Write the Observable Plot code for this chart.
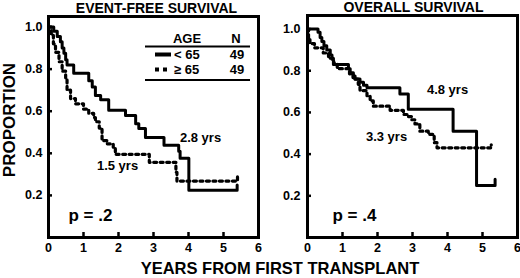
<!DOCTYPE html>
<html><head><meta charset="utf-8">
<script src="https://cdn.jsdelivr.net/npm/d3@7"></script>
<script src="https://cdn.jsdelivr.net/npm/@observablehq/plot@0.6"></script>
<style>
body{margin:0;background:#fff;}
#wrap{position:relative;width:520px;height:278px;font-family:"Liberation Sans",Arial,sans-serif;}
#wrap svg{position:absolute;top:0;}
</style></head><body><div id="wrap"></div>
<script>
// ---- data ----
const panelTitles = ["EVENT-FREE SURVIVAL", "OVERALL SURVIVAL"];
const groups = ["< 65", "\u2265 65"];
const groupN = [49, 49];
const xTicks = [0, 1, 2, 3, 4, 5, 6];
const yTicks = [0.2, 0.4, 0.6, 0.8, 1.0];
const xTitle = "YEARS FROM FIRST TRANSPLANT";
const yTitle = "PROPORTION";

// Event-free survival, age < 65 (solid)
const efsYoungT = [0, 0.15, 0.25, 0.34, 0.39, 0.44, 0.49, 0.53, 0.72, 1.15, 1.25, 1.34, 1.49, 1.72, 2.2, 2.49, 2.58, 2.77, 3.3, 3.72, 3.76, 4.01, 5.39, 5.39];
const efsYoungS = [1.0, 0.98, 0.955, 0.93, 0.90, 0.875, 0.845, 0.82, 0.78, 0.745, 0.715, 0.675, 0.655, 0.605, 0.58, 0.54, 0.518, 0.475, 0.438, 0.41, 0.376, 0.224, 0.224, 0.25];
// Event-free survival, age >= 65 (dotted)
const efsOldT = [0, 0.08, 0.14, 0.2, 0.3, 0.39, 0.49, 0.53, 0.63, 0.77, 1.0, 1.15, 1.29, 1.34, 1.45, 1.53, 1.68, 1.85, 1.91, 2.88, 3.64, 3.67, 5.4, 5.4];
const efsOldS = [1.0, 0.96, 0.92, 0.88, 0.835, 0.79, 0.75, 0.70, 0.66, 0.635, 0.61, 0.59, 0.57, 0.55, 0.52, 0.46, 0.445, 0.425, 0.395, 0.357, 0.31, 0.268, 0.268, 0.288];
// Overall survival, age < 65 (solid)
const osYoungT = [0, 0.3, 0.36, 0.41, 0.47, 0.55, 0.65, 0.7, 0.74, 1.17, 1.22, 1.31, 1.36, 1.5, 1.6, 1.7, 2.64, 2.88, 4.16, 4.83, 5.36, 5.36];
const osYoungS = [1.0, 0.985, 0.96, 0.94, 0.92, 0.90, 0.875, 0.855, 0.83, 0.81, 0.79, 0.775, 0.76, 0.745, 0.73, 0.718, 0.688, 0.615, 0.51, 0.25, 0.25, 0.28];
// Overall survival, age >= 65 (dotted)
const osOldT = [0, 0.03, 0.07, 0.2, 0.45, 0.6, 0.75, 0.85, 1.2, 1.3, 1.45, 1.5, 1.7, 1.79, 1.88, 2.36, 2.74, 2.88, 2.98, 3.07, 3.21, 3.45, 3.62, 3.7, 5.25, 5.25];
const osOldS = [1.0, 0.96, 0.93, 0.91, 0.885, 0.86, 0.835, 0.81, 0.785, 0.76, 0.735, 0.705, 0.68, 0.655, 0.63, 0.61, 0.59, 0.58, 0.565, 0.545, 0.51, 0.495, 0.455, 0.43, 0.43, 0.445];

const medianLabels = [["2.8 yrs", "1.5 yrs"], ["4.8 yrs", "3.3 yrs"]];
const pValues = ["p = .2", "p = .4"];

// ---- drawing ----
const FONT = "'Liberation Sans', Arial, sans-serif";
const toRows = (T, S) => T.map((t, i) => ({t, s: S[i]}));

function panel(cfg) {
  return Plot.plot({
    width: cfg.width, height: 278,
    marginLeft: cfg.marginLeft, marginRight: cfg.marginRight,
    marginTop: cfg.marginTop, marginBottom: 41,
    style: {fontFamily: FONT, fontWeight: "bold", fontSize: "12px", color: "#000", background: "transparent"},
    x: {domain: [0, 6], label: null},
    y: {domain: cfg.yDomain, label: null},
    marks: [
      Plot.axisX(xTicks, {tickSize: -5, tickPadding: 11, strokeWidth: 2.5, fontSize: 12.5, fontWeight: "bold"}),
      Plot.axisY(yTicks, {tickSize: -4, tickPadding: cfg.yPad, strokeWidth: 2.5, tickFormat: d3.format(".1f"), fontSize: 12.5, fontWeight: "bold"}),
      Plot.line(cfg.young, {x: "t", y: "s", curve: "step-after", stroke: "#000", strokeWidth: 3}),
      Plot.line(cfg.old, {x: "t", y: "s", curve: "step-after", stroke: "#000", strokeWidth: 3.2, strokeDasharray: "3,3.5"}),
      Plot.frame({stroke: "#000", strokeWidth: 3}),
      Plot.text([cfg.title], {text: d => d, frameAnchor: "top", dy: -4, lineAnchor: "bottom", fontSize: 14, fontWeight: "bold", dx: cfg.titleDx}),
      Plot.text([cfg.labels[0]], {text: d => d, frameAnchor: "top-left", dx: cfg.lab0[0], dy: cfg.lab0[1], textAnchor: "middle", lineAnchor: "middle", fontSize: 13, fontWeight: "bold"}),
      Plot.text([cfg.labels[1]], {text: d => d, frameAnchor: "top-left", dx: cfg.lab1[0], dy: cfg.lab1[1], textAnchor: "middle", lineAnchor: "middle", fontSize: 13, fontWeight: "bold"}),
      Plot.text([cfg.p], {text: d => d, frameAnchor: "top-left", dx: cfg.pPos[0], dy: cfg.pPos[1], textAnchor: "start", lineAnchor: "middle", fontSize: 17, fontWeight: "bold"})
    ]
  });
}

const wrap = document.getElementById("wrap");

const left = panel({
  width: 262, marginLeft: 48, marginRight: 4, marginTop: 16, yDomain: [0, 1.05], yPad: 10,
  title: panelTitles[0], titleDx: 3,
  young: toRows(efsYoungT, efsYoungS), old: toRows(efsOldT, efsOldS),
  labels: medianLabels[0], lab0: [152, 121], lab1: [69, 149],
  p: pValues[0], pPos: [20, 199]
});
left.style.left = "0px";
wrap.appendChild(left);

const right = panel({
  width: 258, marginLeft: 45, marginRight: 3, marginTop: 15, yDomain: [0, 1.065], yPad: 11,
  title: panelTitles[1], titleDx: 1,
  young: toRows(osYoungT, osYoungS), old: toRows(osOldT, osOldS),
  labels: medianLabels[1], lab0: [140, 74], lab1: [79, 121],
  p: pValues[1], pPos: [25, 200]
});
right.style.left = "262px";
wrap.appendChild(right);

// overlay: shared axis titles and legend table
const ov = d3.select(wrap).append("svg")
  .attr("width", 520).attr("height", 278)
  .style("left", "0px")
  .attr("font-family", FONT).attr("font-weight", "bold").attr("fill", "#000");

ov.append("text").attr("x", 280).attr("y", 273.5).attr("text-anchor", "middle")
  .attr("font-size", 16.5).text(xTitle);
ov.append("text").attr("transform", "translate(15,120) rotate(-90)").attr("text-anchor", "middle")
  .attr("font-size", 17).text(yTitle);

const lg = ov.append("g");
lg.append("line").attr("x1", 145).attr("x2", 250).attr("y1", 46.5).attr("y2", 46.5).attr("stroke", "#000").attr("stroke-width", 1.8);
lg.append("line").attr("x1", 145).attr("x2", 250).attr("y1", 80).attr("y2", 80).attr("stroke", "#000").attr("stroke-width", 1.8);
lg.append("text").attr("x", 187).attr("y", 43).attr("text-anchor", "middle").attr("font-size", 13).text("AGE");
lg.append("text").attr("x", 236).attr("y", 43).attr("text-anchor", "middle").attr("font-size", 13).text("N");
const rowY = [54.5, 69.5];
groups.forEach((g, i) => {
  lg.append("line").attr("x1", 155).attr("x2", 171).attr("y1", rowY[i]).attr("y2", rowY[i])
    .attr("stroke", "#000").attr("stroke-width", 4).attr("stroke-dasharray", i === 0 ? null : "4,4");
  lg.append("text").attr("x", 174).attr("y", rowY[i] + 4.5).attr("font-size", 13).text(g);
  lg.append("text").attr("x", 237).attr("y", rowY[i] + 4.5).attr("text-anchor", "middle").attr("font-size", 13).text(groupN[i]);
});
</script></body></html>
